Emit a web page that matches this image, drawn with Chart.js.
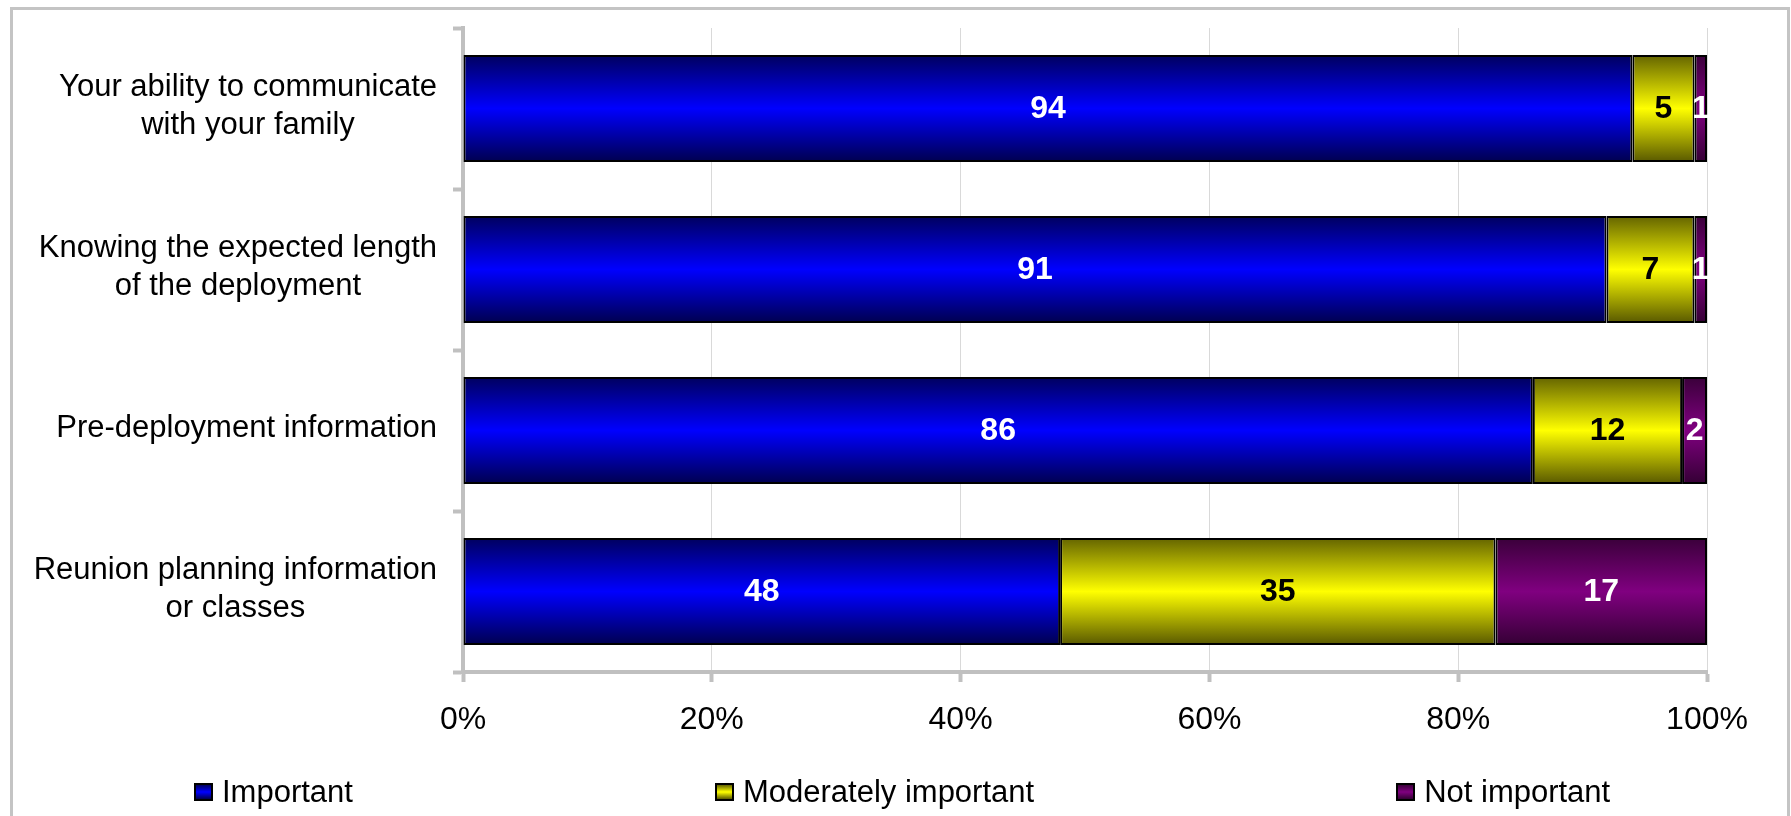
<!DOCTYPE html>
<html>
<head>
<meta charset="utf-8">
<script src="https://cdn.jsdelivr.net/npm/chart.js@4"></script>
<style>
  body { margin: 0; width: 1791px; height: 816px; overflow: hidden; background: #fff;
         font-family: "Liberation Sans", Arial, sans-serif; }
  .frame { position: absolute; left: 10px; top: 7px; width: 1780px; height: 900px;
           box-sizing: border-box; border: 3px solid #c4c4c4; }
  #chart { position: absolute; left: 0; top: 0; }
  .legend { position: absolute; left: 194px; top: 773px; height: 38px; display: flex;
            align-items: center; gap: 362px; font-size: 31px; color: #000; white-space: nowrap; }
  .legend .item { display: flex; align-items: center; }
  .legend i { display: inline-block; width: 19px; height: 18px; box-sizing: border-box;
              border: 2px solid #000; margin-right: 9px; }
</style>
</head>
<body>
<div class="frame"></div>
<canvas id="chart" width="1791" height="816"></canvas>
<div class="legend" id="legend"></div>
<script>
// survey answers, shown as a 100% stacked bar
const categories = [
    ['Your ability to communicate', 'with your family'],
    ['Knowing the expected length', 'of the deployment'],
    ['Pre-deployment information'],
    ['Reunion planning information', 'or classes']
];
const seriesNames = ['Important', 'Moderately important', 'Not important'];
const important = [94, 91, 86, 48];
const moderate = [5, 7, 12, 35];
const notImportant = [1, 1, 2, 17];
const xTicks = [0, 20, 40, 60, 80, 100];

const shades = [
    ['#00005e', '#0000ff', '#00004e'],
    ['#646400', '#ffff00', '#585800'],
    ['#3a003a', '#800080', '#340034']
];
const labelColors = ['#fff', '#000', '#fff'];
const FONT = '"Liberation Sans", Arial, sans-serif';
const BAR_PCT = 0.665;

const totals = categories.map((_, i) => important[i] + moderate[i] + notImportant[i]);
const share = arr => arr.map((v, i) => v / totals[i] * 100);

/**
 * Vertical dark-bright-dark fill, one gradient per bar
 */
function barFill(stops) {
    return context => {
        const chart = context.chart;
        if (!chart.chartArea || context.dataIndex === undefined) return stops[1];
        const y = chart.scales.y;
        const mid = y.getPixelForValue(context.dataIndex);
        const half = y.height / categories.length * BAR_PCT / 2;
        const g = chart.ctx.createLinearGradient(0, mid - half, 0, mid + half);
        g.addColorStop(0, stops[0]);
        g.addColorStop(0.5, stops[1]);
        g.addColorStop(1, stops[2]);
        return g;
    };
}

/**
 * Category labels: block right-aligned, lines centred inside the block
 */
const categoryLabels = {
    id: 'categoryLabels',
    afterDraw(chart) {
        const { ctx } = chart;
        const y = chart.scales.y;
        const right = y.right - 26;
        ctx.save();
        ctx.font = '31px ' + FONT;
        ctx.fillStyle = '#000';
        ctx.textAlign = 'center';
        ctx.textBaseline = 'middle';
        categories.forEach((lines, i) => {
            const w = Math.max(...lines.map(l => ctx.measureText(l).width));
            const cy = y.getPixelForValue(i) - 2;
            lines.forEach((line, j) => {
                ctx.fillText(line, right - w / 2, cy + (j - (lines.length - 1) / 2) * 38);
            });
        });
        ctx.restore();
    }
};

/**
 * Value in the middle of every segment
 */
const valueLabels = {
    id: 'valueLabels',
    afterDatasetsDraw(chart) {
        const { ctx } = chart;
        ctx.save();
        ctx.font = 'bold 32px ' + FONT;
        ctx.textAlign = 'center';
        ctx.textBaseline = 'middle';
        chart.data.datasets.forEach((ds, d) => {
            ctx.fillStyle = labelColors[d];
            chart.getDatasetMeta(d).data.forEach((bar, i) => {
                ctx.fillText(ds.counts[i], (bar.x + bar.base) / 2, bar.y + 1);
            });
        });
        ctx.restore();
    }
};

const seriesValues = [important, moderate, notImportant];

new Chart(document.getElementById('chart'), {
    type: 'bar',
    data: {
        labels: categories,
        datasets: seriesValues.map((vals, d) => ({
            label: seriesNames[d],
            data: share(vals),
            counts: vals,
            backgroundColor: barFill(shades[d]),
            borderColor: '#000',
            borderWidth: 2,
            borderSkipped: false,
            categoryPercentage: 1,
            barPercentage: BAR_PCT
        }))
    },
    options: {
        indexAxis: 'y',
        responsive: false,
        animation: false,
        layout: { padding: { top: 28, right: 84, bottom: 0, left: 0 } },
        plugins: {
            legend: { display: false },
            tooltip: { enabled: false }
        },
        scales: {
            x: {
                stacked: true,
                min: 0,
                max: 100,
                afterBuildTicks: s => { s.ticks = xTicks.map(v => ({ value: v })); },
                afterFit: s => { s.height = 144; },
                ticks: {
                    callback: v => v + '%',
                    color: '#000',
                    font: { family: FONT, size: 32 },
                    padding: 19,
                    maxRotation: 0
                },
                grid: {
                    color: '#d9d9d9',
                    lineWidth: 1,
                    tickColor: '#c0c0c0',
                    tickWidth: 4,
                    tickLength: 10
                },
                border: { color: '#c0c0c0', width: 4 }
            },
            y: {
                stacked: true,
                afterFit: s => { s.width = 463; },
                ticks: { display: false },
                grid: {
                    offset: true,
                    drawOnChartArea: false,
                    tickColor: '#c0c0c0',
                    tickWidth: 4,
                    tickLength: 10
                },
                border: { color: '#c0c0c0', width: 4 }
            }
        }
    },
    plugins: [categoryLabels, valueLabels]
});

// legend with wide, even spacing
const legend = document.getElementById('legend');
seriesNames.forEach((name, d) => {
    const item = document.createElement('span');
    item.className = 'item';
    const box = document.createElement('i');
    box.style.background = `linear-gradient(${shades[d][0]}, ${shades[d][1]}, ${shades[d][2]})`;
    item.appendChild(box);
    item.appendChild(document.createTextNode(name));
    legend.appendChild(item);
});
</script>
</body>
</html>
